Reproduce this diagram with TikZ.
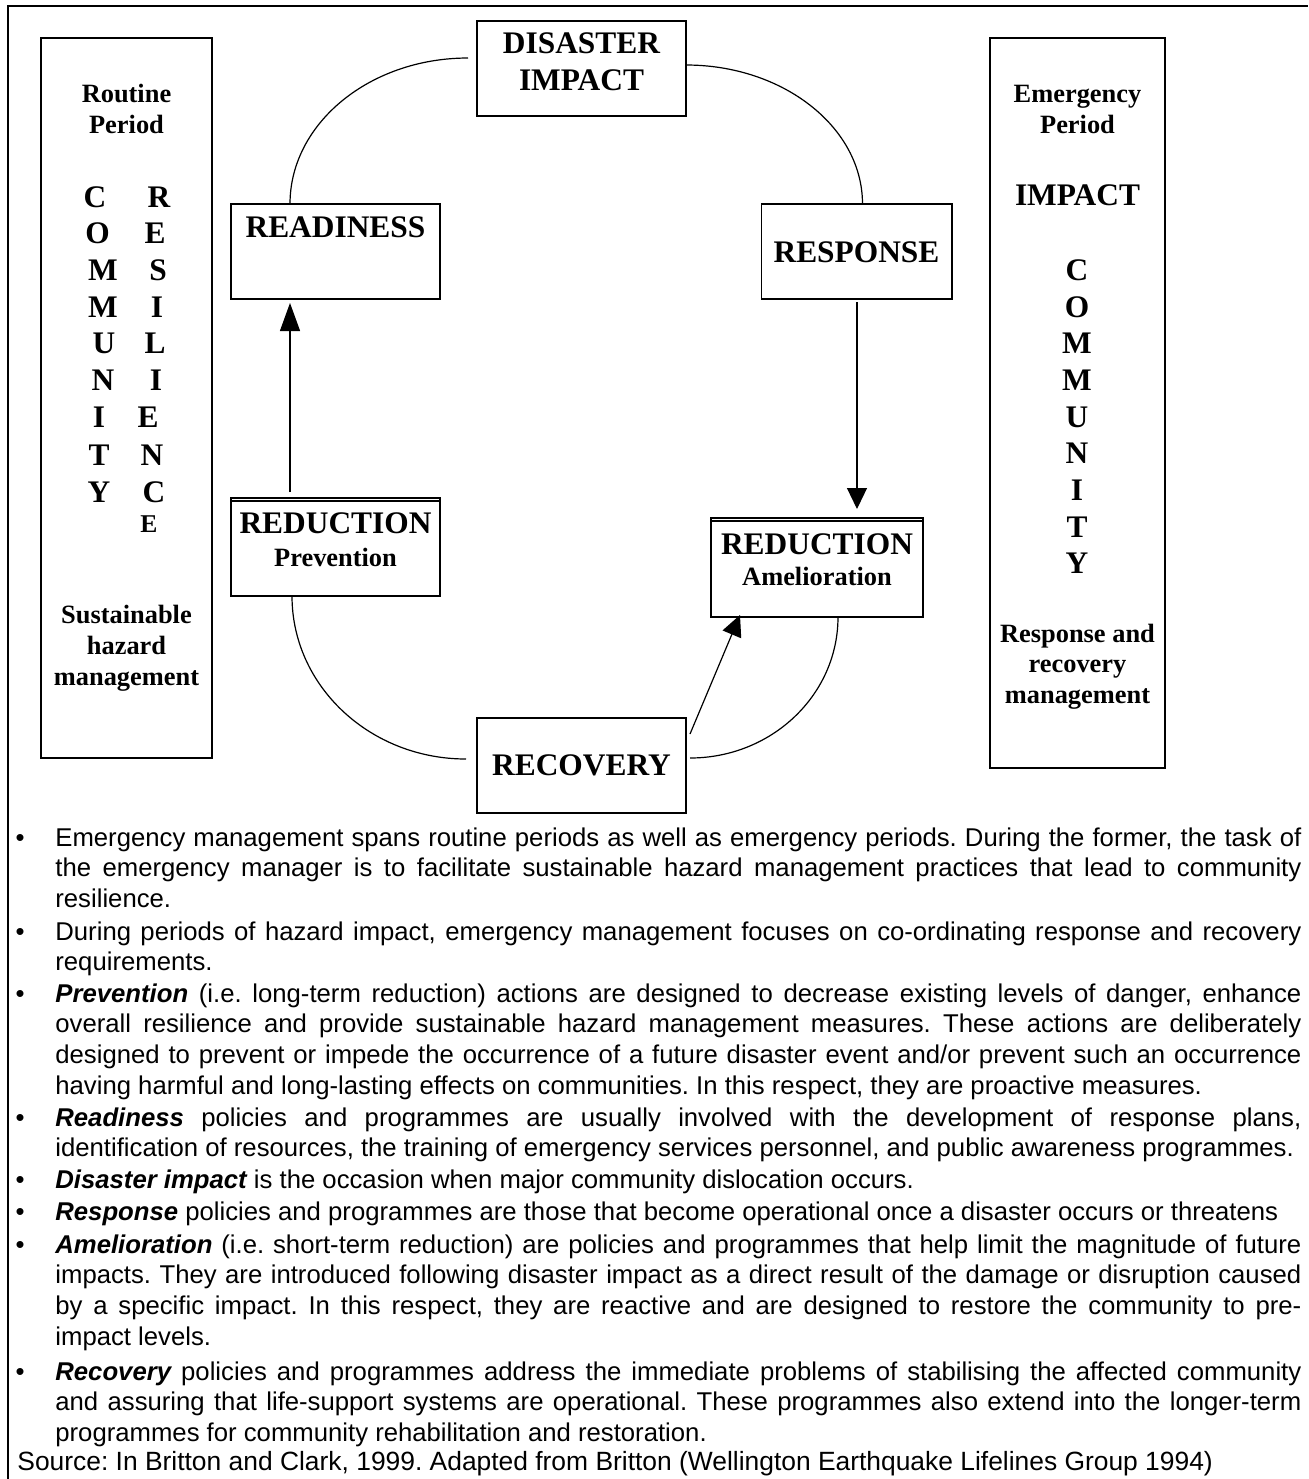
\documentclass[tikz,border=0pt]{standalone}
\usepackage{fontspec}
\setmainfont{Liberation Serif}
\newfontfamily\bodysans{Liberation Sans}
\usetikzlibrary{arrows.meta,calc}
\newcommand\biglab{\fontsize{15.7}{18}\selectfont\bfseries}
\newcommand\sublab{\fontsize{13.2}{15.5}\selectfont\bfseries}
\newcommand\smalllab{\fontsize{12.8}{15}\selectfont\bfseries}
\newcommand\bodyf{\bodysans\fontsize{12.85}{15.4}\selectfont\frenchspacing\hyphenpenalty=10000 \exhyphenpenalty=10000 \tolerance=9999 }
\newcommand\srcf{\bodysans\fontsize{13.2}{15.4}\selectfont\frenchspacing}
\newcommand\bi[1]{{\bfseries\itshape #1}}
\begin{document}
\begin{tikzpicture}[x=0.5pt,y=-0.5pt,
  box/.style={draw, line width=0.75pt, rectangle, inner sep=0pt, outer sep=0pt},
  lab/.style={inner sep=0pt, anchor=base, font=\biglab},
  sublabel/.style={inner sep=0pt, anchor=base, font=\sublab},
  smallE/.style={inner sep=0pt, anchor=base, font=\smalllab},
  para/.style={inner sep=0pt, anchor=base west, text width=623pt, align=justify, font=\bodyf},
  bul/.style={inner sep=0pt, anchor=base, font=\bodyf},
  curveline/.style={line width=0.6pt},
  arrbig/.style={line width=0.6pt, -{Triangle[length=14pt,width=10pt]}},
  arrsm/.style={line width=0.6pt, -{Triangle[length=10.5pt,width=10pt]}}]
\useasboundingbox (0,0) rectangle (1308,1479);
% frame
\draw[line width=1.3pt] (7,6) -- (1308,6);
\draw[line width=1pt] (8,5) -- (8,1479);
% side boxes
\node[box, minimum width=85.5pt, minimum height=360pt] (left) at (126.5,398) {};
\node[box, minimum width=87.5pt, minimum height=365pt] (right) at (1077.5,403) {};
% cycle boxes
\node[box, minimum width=104.5pt, minimum height=47.5pt] (dis) at (581.5,68.5) {};
\node[box, minimum width=104.5pt, minimum height=47.5pt] (ready) at (335.5,251.5) {};
\node[box, minimum width=95.25pt, minimum height=47.5pt] (resp) at (856.75,251.5) {};
\node[box, minimum width=104.5pt, minimum height=49pt] (prev) at (335.5,547) {};
\node[box, minimum width=106pt, minimum height=49.5pt] (amel) at (817,567.5) {};
\node[box, minimum width=104.5pt, minimum height=47.5pt] (rec) at (581.5,765.5) {};
\draw[line width=0.6pt] ($(prev.north west)+(0,3)$) -- ($(prev.north east)+(0,3)$);
\draw[line width=0.6pt] ($(amel.north west)+(0,3)$) -- ($(amel.north east)+(0,3)$);
% box labels
\node[lab] (tdis1) at (581.5,53) {DISASTER};
\node[lab] (tdis2) at (581.5,90) {IMPACT};
\node[lab] (tready) at (335.5,237) {READINESS};
\node[lab] (tresp) at (856.5,262) {RESPONSE};
\node[lab] (tprev1) at (335.5,533) {REDUCTION};
\node[sublabel] (tprev2) at (335.5,566) {Prevention};
\node[lab] (tamel1) at (817,554) {REDUCTION};
\node[sublabel] (tamel2) at (817,585) {Amelioration};
\node[lab] (trec) at (581.5,775) {RECOVERY};
% arcs
\draw[curveline] ($(ready.north west)+(59,0)$) .. controls +(0,-80.6) and +(-98.3,0) .. ($(dis.north west)+(-9,37)$);
\draw[curveline] ($(dis.north east)+(0,44)$) .. controls +(97.2,0) and +(0,-76.8) .. ($(resp.north west)+(101,0)$);
\draw[curveline] ($(prev.south west)+(61,0)$) .. controls +(0,90) and +(-96.1,0) .. ($(rec.north west)+(-11,41)$);
\draw[curveline] ($(rec.north east)+(4,40)$) .. controls +(81.7,0) and +(0,77.9) .. ($(amel.south west)+(127,0)$);
% arrows
\draw[arrbig] ($(prev.north west)+(59,-6)$) -- ($(ready.south west)+(59,4)$);
\draw[arrsm] ($(resp.south west)+(95.5,3)$) -- ($(amel.north west)+(146,-9)$);
\draw[arrsm] ($(rec.north east)+(4,16)$) -- ($(amel.south west)+(29,-2)$);
% left side text
\node[sublabel] (l1) at (126.5,102) {Routine};
\node[sublabel] (l2) at (126.5,133) {Period};
\foreach \l/\xx/\yy [count=\i] in {C/95/207,O/97.5/243,M/103/280,M/103/317,U/104/353,N/103/390,I/99/427,T/99/465,Y/99/502}
  \node[lab] (lc\i) at (\xx,\yy) {\l};
\foreach \l/\xx/\yy [count=\i] in {R/159/207,E/155/243,S/158/280,I/157/317,L/155/353,I/156/390,E/148/427,N/152/465,C/154/502}
  \node[lab] (lr\i) at (\xx,\yy) {\l};
\node[smallE] (lr10) at (149,532) {E};
\node[sublabel] (l3) at (126.5,623) {Sustainable};
\node[sublabel] (l4) at (126.5,654) {hazard};
\node[sublabel] (l5) at (126.5,685) {management};
% right side text
\node[sublabel] (r1) at (1077.5,102) {Emergency};
\node[sublabel] (r2) at (1077.5,133) {Period};
\node[lab] (r3) at (1077.5,205) {IMPACT};
\foreach \l/\yy [count=\i] in {C/280,O/317,M/353,M/390,U/427,N/463,I/500,T/537,Y/573}
  \node[lab] (rc\i) at (1077,\yy) {\l};
\node[sublabel] (r4) at (1077.5,642) {Response and};
\node[sublabel] (r5) at (1077.5,672) {recovery};
\node[sublabel] (r6) at (1077.5,703) {management};
% bullets
\foreach \yy [count=\i] in {846,940,1002,1126,1188,1220,1253,1380}
  \node[bul] (b\i) at (20,\yy) {•};
% paragraphs
\node[para] (p1) at (55,846) {Emergency management spans routine periods as well as emergency periods. During the former, the task of\linebreak the emergency manager is to facilitate sustainable hazard management practices that lead to community\linebreak resilience.};
\node[para] (p2) at (55,940) {During periods of hazard impact, emergency management focuses on co-ordinating response and recovery\linebreak requirements.};
\node[para] (p3) at (55,1002) {\bi{Prevention} (i.e. long-term reduction) actions are designed to decrease existing levels of danger, enhance\linebreak overall resilience and provide sustainable hazard management measures. These actions are deliberately\linebreak designed to prevent or impede the occurrence of a future disaster event and/or prevent such an occurrence\linebreak having harmful and long-lasting effects on communities. In this respect, they are proactive measures.};
\node[para] (p4) at (55,1126) {\bi{Readiness} policies and programmes are usually involved with the development of response plans,\linebreak identification of resources, the training of emergency services personnel, and public awareness programmes.};
\node[para] (p5) at (55,1188) {\bi{Disaster impact} is the occasion when major community dislocation occurs.};
\node[para] (p6) at (55,1220) {\bi{Response} policies and programmes are those that become operational once a disaster occurs or threatens};
\node[para] (p7) at (55,1253) {\bi{Amelioration} (i.e. short-term reduction) are policies and programmes that help limit the magnitude of future\linebreak impacts. They are introduced following disaster impact as a direct result of the damage or disruption caused\linebreak by a specific impact. In this respect, they are reactive and are designed to restore the community to pre-\linebreak impact levels.};
\node[para] (p8) at (55,1380) {\bi{Recovery} policies and programmes address the immediate problems of stabilising the affected community\linebreak and assuring that life-support systems are operational. These programmes also extend into the longer-term\linebreak programmes for community rehabilitation and restoration.};
\node[inner sep=0pt, anchor=base west, font=\srcf] (src) at (17,1470) {Source: In Britton and Clark, 1999. Adapted from Britton (Wellington Earthquake Lifelines Group 1994)};
\end{tikzpicture}
\end{document}
